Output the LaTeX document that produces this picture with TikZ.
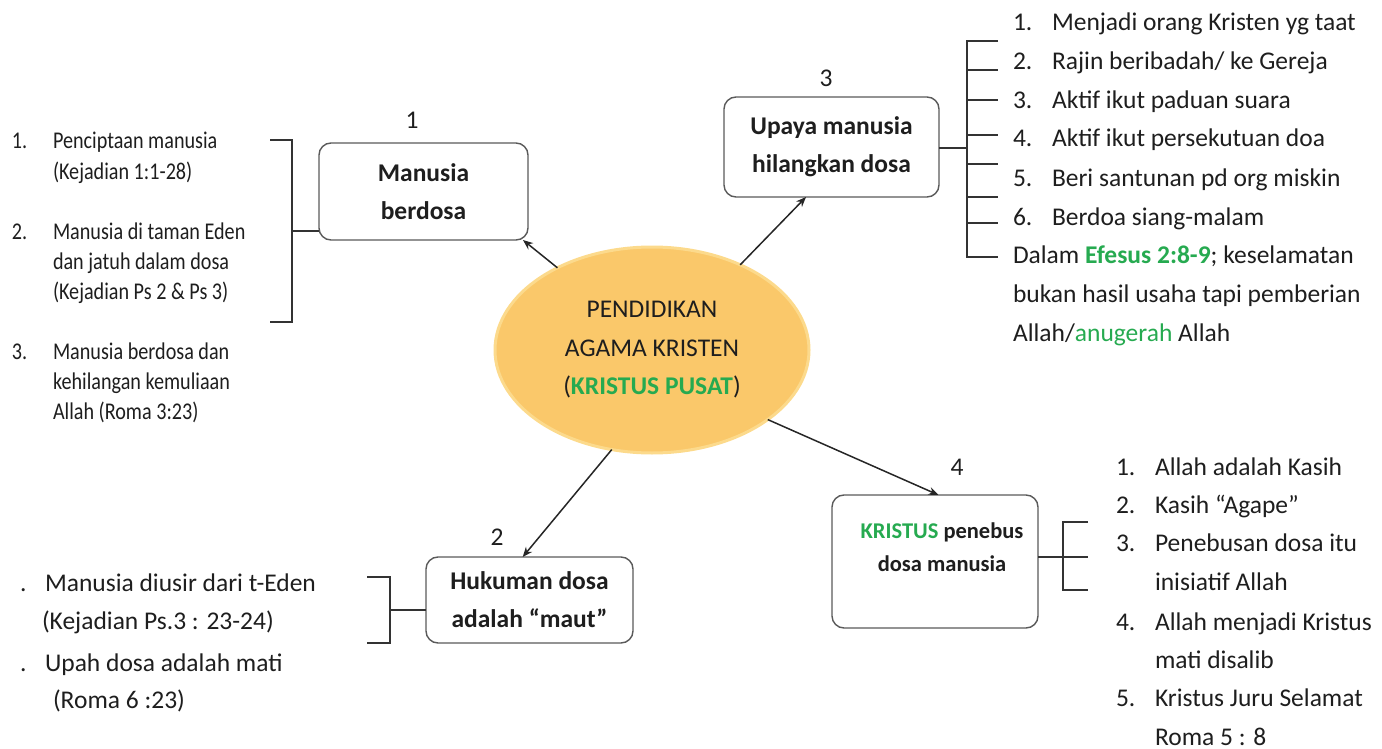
\documentclass[tikz,border=0pt]{standalone}
\usepackage{fontspec}
\setmainfont{Carlito}
\newfontfamily\narrowfont[FakeStretch=0.84]{Carlito}
\usetikzlibrary{arrows.meta,shapes.geometric}
\definecolor{grn}{RGB}{38,170,80}
\definecolor{ink}{RGB}{30,30,30}
\definecolor{ellfill}{RGB}{250,200,106}
\definecolor{elledge}{RGB}{252,218,140}
\definecolor{boxline}{RGB}{90,90,90}
\begin{document}
\begin{tikzpicture}[x=1pt,y=-1pt,
  every node/.style={inner sep=0pt, outer sep=0pt, text=ink},
  box/.style={draw=boxline, line width=1.4pt, rounded corners=12pt, fill=white},
  boxtxt/.style={align=center, font=\bfseries\fontsize{25.5}{38}\selectfont},
  ell/.style={ellipse, minimum width=314pt, minimum height=206pt, fill=ellfill, draw=elledge, line width=3pt, align=center, font=\fontsize{25.5}{38.5}\selectfont},
  conn/.style={line width=1.5pt, draw=black!85, -{Stealth[length=10pt,width=8pt]}},
  brk/.style={line width=2pt, draw=black!80},
  lbl/.style={font=\fontsize{25.5}{30}\selectfont},
  item/.style={anchor=base west, font=\fontsize{25.5}{30}\selectfont},
  sitem/.style={anchor=base west, font=\narrowfont\fontsize{24}{29}\selectfont}]
\useasboundingbox (0,0) rectangle (1382,749);

% central ellipse
\node[ell] (ell) at (652,350) {PENDIDIKAN\\AGAMA KRISTEN\\(\textcolor{grn}{\bfseries KRISTUS PUSAT})};

% boxes
\node[box, boxtxt, minimum width=209pt, minimum height=97pt] (b1) at (423.5,191.5) {Manusia\\berdosa};
\node[box, boxtxt, minimum width=215pt, minimum height=100pt] (b3) at (831.5,147) {Upaya manusia\\hilangkan dosa};
\node[box, boxtxt, minimum width=207pt, minimum height=86pt] (b2) at (529.5,600) {Hukuman dosa\\adalah “maut”};
\node[box, minimum width=206pt, minimum height=133pt] (b4) at (935,561.5) {};
\node[align=center, font=\bfseries\fontsize{22.5}{33}\selectfont] (b4t) at (942,547) {\textcolor{grn}{KRISTUS} penebus\\dosa manusia};

% number labels
\node[lbl] (n1) at (412,120) {1};
\node[lbl] (n2) at (497,537) {2};
\node[lbl] (n3) at (826,78) {3};
\node[lbl] (n4) at (957,467) {4};

% connectors
\draw[conn] (ell.139) -- (b1.-26);
\draw[conn] (ell.44) -- (b3.243);
\draw[conn] (ell.248) -- (b2.99.5);
\draw[conn] (ell.-31) -- (b4.87.5);

% bracket 1
\draw[brk] (270,140) -- (292,140) -- (292,322) -- (270,322);
\draw[brk] (292,231) -- (b1.west |- 0,231);
% bracket 2
\draw[brk] (367,577) -- (390,577) -- (390,643) -- (367,643);
\draw[brk] (390,610) -- (b2.west |- 0,610);
% bracket 3
\draw[brk] (b3.east |- 0,148) -- (967,148);
\draw[brk] (998,41) -- (967,41) -- (967,257) -- (998,257);
\foreach \yy in {70,100,135,164,197,223} \draw[brk] (967,\yy) -- (998,\yy);
% bracket 4
\draw[brk] (b4.east |- 0,557) -- (1088,557);
\draw[brk] (1088,522) -- (1063,522) -- (1063,590) -- (1088,590);

% left list 1
\node[sitem] (a1n) at (12,149) {1.};
\node[sitem] (a1a) at (53,149) {Penciptaan manusia};
\node[sitem] (a1b) at (53,179) {(Kejadian 1:1-28)};
\node[sitem] (a2n) at (12,239) {2.};
\node[sitem] (a2a) at (53,239) {Manusia di taman Eden};
\node[sitem] (a2b) at (53,269) {dan jatuh dalam dosa};
\node[sitem] (a2c) at (53,299) {(Kejadian Ps 2 \& Ps 3)};
\node[sitem] (a3n) at (12,359) {3.};
\node[sitem] (a3a) at (53,359) {Manusia berdosa dan};
\node[sitem] (a3b) at (53,389) {kehilangan kemuliaan};
\node[sitem] (a3c) at (53,419) {Allah (Roma 3:23)};

% left list 2
\node[item] (c1n) at (20,591) {.};
\node[item] (c1a) at (45,591) {Manusia diusir dari t-Eden};
\node[item] (c1b) at (42,629) {(Kejadian Ps.3 : 23-24)};
\node[item] (c2n) at (20,671) {.};
\node[item] (c2a) at (45,671) {Upah dosa adalah mati};
\node[item] (c2b) at (53,708) {(Roma 6 :23)};

% right list 3
\node[item] (r1n) at (1013,31) {1.};
\node[item] (r1a) at (1052,31) {Menjadi orang Kristen yg taat};
\node[item] (r2n) at (1013,70) {2.};
\node[item] (r2a) at (1052,70) {Rajin beribadah/ ke Gereja};
\node[item] (r3n) at (1013,108.5) {3.};
\node[item] (r3a) at (1052,108.5) {Aktif ikut paduan suara};
\node[item] (r4n) at (1013,147) {4.};
\node[item] (r4a) at (1052,147) {Aktif ikut persekutuan doa};
\node[item] (r5n) at (1013,186) {5.};
\node[item] (r5a) at (1052,186) {Beri santunan pd org miskin};
\node[item] (r6n) at (1013,225) {6.};
\node[item] (r6a) at (1052,225) {Berdoa siang-malam};
\node[item] (r7) at (1013,263.5) {Dalam \textcolor{grn}{\bfseries Efesus 2:8-9}; keselamatan};
\node[item] (r8) at (1013,302) {bukan hasil usaha tapi pemberian};
\node[item] (r9) at (1013,341) {Allah/\textcolor{grn}{anugerah} Allah};

% right list 4
\node[item] (s1n) at (1116,475) {1.};
\node[item] (s1a) at (1155,475) {Allah adalah Kasih};
\node[item] (s2n) at (1116,513) {2.};
\node[item] (s2a) at (1155,513) {Kasih “Agape”};
\node[item] (s3n) at (1116,551) {3.};
\node[item] (s3a) at (1155,551) {Penebusan dosa itu};
\node[item] (s3b) at (1155,590) {inisiatif Allah};
\node[item] (s4n) at (1116,630) {4.};
\node[item] (s4a) at (1155,630) {Allah menjadi Kristus};
\node[item] (s4b) at (1155,668) {mati disalib};
\node[item] (s5n) at (1116,706) {5.};
\node[item] (s5a) at (1155,706) {Kristus Juru Selamat};
\node[item] (s5b) at (1155,745) {Roma 5 : 8};
\end{tikzpicture}
\end{document}
